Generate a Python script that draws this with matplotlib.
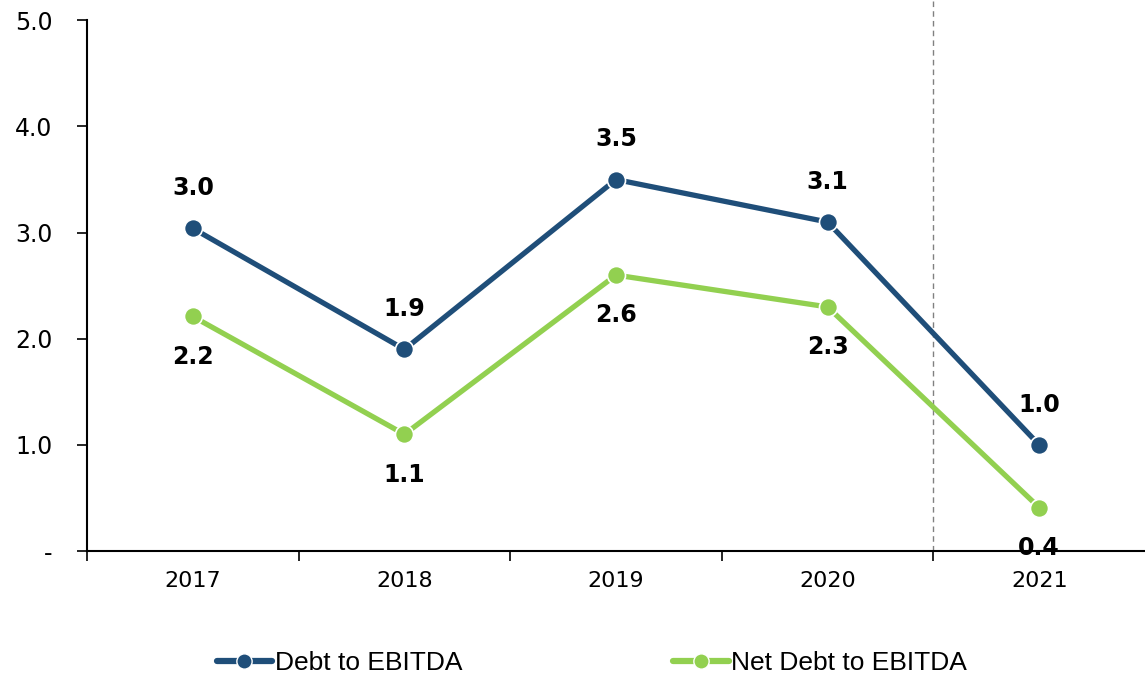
import matplotlib
matplotlib.use("Agg")
import matplotlib.pyplot as plt
from matplotlib.lines import Line2D
from matplotlib.ticker import FixedLocator, FuncFormatter

years = ["2017", "2018", "2019", "2020", "2021"]
debt_to_ebitda = [3.04, 1.90, 3.50, 3.10, 1.00]
net_debt_to_ebitda = [2.21, 1.10, 2.60, 2.30, 0.41]
debt_labels = ["3.0", "1.9", "3.5", "3.1", "1.0"]
net_labels = ["2.2", "1.1", "2.6", "2.3", "0.4"]

BLUE = "#1F4E79"
GREEN = "#92D050"

fig = plt.figure(figsize=(11.45, 6.77), dpi=100)
ax = fig.add_axes([0.076, 0.186, 0.924, 0.784])

x = list(range(len(years)))
ax.plot(x, debt_to_ebitda, color=BLUE, lw=3.8, marker="o", ms=13,
        mfc=BLUE, mec="white", mew=1.2, zorder=3)
ax.plot(x, net_debt_to_ebitda, color=GREEN, lw=3.8, marker="o", ms=13,
        mfc=GREEN, mec="white", mew=1.2, zorder=3)

# data labels: debt above, net debt below
for i in x:
    ax.annotate(debt_labels[i], (i, debt_to_ebitda[i]), xytext=(0, 29),
                textcoords="offset points", ha="center", va="center",
                fontsize=17, fontweight="bold", family="DejaVu Sans", zorder=4)
    ax.annotate(net_labels[i], (i, net_debt_to_ebitda[i]), xytext=(0, -29),
                textcoords="offset points", ha="center", va="center",
                fontsize=17, fontweight="bold", family="DejaVu Sans", zorder=4,
                annotation_clip=False)

# forecast divider
ax.axvline(3.5, ymin=0, ymax=1.04, color="#808080", lw=1, ls=(0, (4, 3)),
           clip_on=False, zorder=1)

ax.set_xlim(-0.5, 4.5)
ax.set_ylim(0, 5.0)

ax.set_xticks(x)
ax.set_xticklabels(years)
ax.xaxis.set_minor_locator(FixedLocator([-0.5, 0.5, 1.5, 2.5, 3.5]))
ax.tick_params(axis="x", which="major", length=0, pad=14, labelsize=16)
ax.tick_params(axis="x", which="minor", length=7, width=1.2, direction="out")

ax.set_yticks([0, 1, 2, 3, 4, 5])
ax.yaxis.set_major_formatter(FuncFormatter(lambda v, p: "-" if v == 0 else f"{v:.1f}"))
ax.tick_params(axis="y", length=7, width=1.2, direction="out", pad=18, labelsize=17)

for s in ["top", "right"]:
    ax.spines[s].set_visible(False)
ax.spines["left"].set_linewidth(1.5)
ax.spines["bottom"].set_linewidth(1.5)

handles = [
    Line2D([], [], color=BLUE, lw=4.5, solid_capstyle="round", marker="o", ms=11,
           mfc=BLUE, mec="white", mew=1),
    Line2D([], [], color=GREEN, lw=4.5, solid_capstyle="round", marker="o", ms=11,
           mfc=GREEN, mec="white", mew=1),
]
fig.legend(handles, ["Debt to EBITDA", "Net Debt to EBITDA"], loc="center",
           bbox_to_anchor=(0.517, 0.021), ncol=2, frameon=False,
           prop={"family": "Liberation Sans", "size": 19}, handlelength=2.1,
           handletextpad=0.1, columnspacing=8.0)

fig.savefig("out.png", dpi=100)
